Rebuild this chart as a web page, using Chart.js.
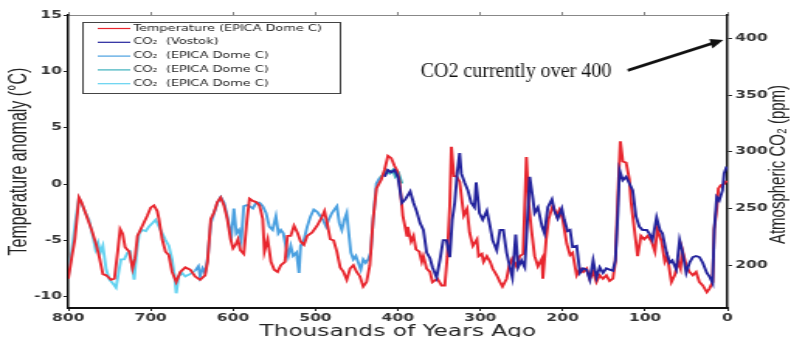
<!DOCTYPE html>
<html>
<head>
<meta charset="utf-8">
<script src="https://cdn.jsdelivr.net/npm/chart.js@4.4.1/dist/chart.umd.min.js"></script>
<style>
    html, body { margin: 0; padding: 0; background: #fff; overflow: hidden; }
    /* the original figure is a stretched matplotlib plot */
    #wrap { width: 510px; height: 337px; transform-origin: 0 0; transform: scaleX(1.551); }
</style>
</head>
<body>
<div id="wrap"><canvas id="myChart" width="510" height="337"></canvas></div>
<script>
var STRETCH = 791 / 510;

/*temperature anomaly, EPICA Dome C (kyr ago, degC)*/
var tempAge = [800,796,792,787,784,778,772,766,762,758,754,748,744,740,737,734,731,726,722,719,716,710,704,700,696,692,690,686,682,678,674,669,664,658,652,646,640,634,631,627,623,619,615,611,607,603,600,597,594,591,587,583,580,576,572,568,564,562,558,554,550,546,542,537,534,530,526,522,518,514,510,504,498,492,489,486,482,478,474,470,466,462,458,454,450,446,442,438,434,430,426,420,416,412,408,404,401,398,394,389,388,384,381,378,374,371,369,365,361,358,352,347,343,340,337,335,332,329,325,322,320,316,313,309,304,302,298,296,292,288,285,280,276,273,268,265,261,256,252,248,246,244,241,238,234,230,225,224,220,217,212,207,204,200,195,191,188,183,179,175,171,167,163,159,155,151,147,143,139,136,133,130,127,123,119,117,113,109,105,101,97,92,88,85,80,76,73,68,64,60,57,55,50,46,42,38,34,30,25,22,18,16,13,11,8,4,1];
var tempVal = [-8.4,-6.6,-4.9,-1.2,-1.6,-2.8,-4.0,-5.4,-6.6,-8.0,-8.1,-8.5,-8.4,-6.0,-4.0,-4.4,-5.6,-6.0,-7.5,-6.6,-4.6,-3.7,-2.8,-2.1,-1.9,-2.4,-3.1,-4.9,-6.0,-6.3,-7.8,-8.7,-7.8,-7.4,-7.6,-8.2,-8.5,-8.1,-6.9,-3.1,-2.5,-1.6,-1.2,-1.9,-3.1,-4.9,-5.7,-5.4,-4.9,-5.9,-6.2,-3.1,-1.3,-1.5,-1.6,-1.9,-3.1,-6.0,-4.9,-6.9,-7.6,-7.8,-7.2,-6.9,-4.6,-4.6,-3.7,-4.3,-5.1,-5.4,-4.6,-4.3,-3.7,-2.9,-2.4,-3.4,-4.9,-5.0,-6.0,-7.4,-7.8,-8.5,-7.5,-7.2,-7.8,-8.2,-9.1,-8.7,-7.2,-3.1,-0.4,0.4,1.3,2.5,2.3,1.6,1.2,0.2,-2.8,-4.6,-3.8,-5.1,-4.6,-5.8,-6.0,-6.9,-6.4,-7.5,-7.8,-8.7,-8.4,-9.0,-9.0,-6.4,-1.9,3.3,0.7,0.7,0.2,-1.6,-2.8,-2.2,-4.3,-5.5,-4.9,-6.4,-6.2,-6.9,-6.4,-6.9,-7.5,-8.1,-8.7,-9.1,-8.4,-7.3,-6.6,-7.3,-6.4,-6.2,-1.9,2.4,-1.9,-4.0,-6.4,-7.3,-6.6,-8.4,-4.9,-3.1,-1.9,-2.8,-2.3,-3.1,-5.3,-6.3,-6.1,-8.1,-7.5,-7.8,-7.5,-8.4,-7.8,-8.7,-8.1,-8.4,-8.1,-8.6,-8.4,-6.9,-1.1,3.8,2.0,1.9,0.4,-1.6,-4.0,-6.4,-4.6,-4.9,-4.6,-5.1,-6.0,-4.0,-5.1,-6.9,-6.4,-8.7,-8.1,-6.9,-7.5,-5.8,-7.2,-7.8,-8.1,-7.8,-8.7,-9.0,-9.6,-9.3,-8.7,-4.0,-2.2,-0.4,-0.1,0.0,0.3];

/*CO2 Vostok (ppm)*/
var vostokAge = [416,412,408,404,400,395,391,385,381,377,373,369,365,361,358,353,349,345,341,337,334,331,328,325,323,319,315,311,307,305,301,297,292,288,285,280,276,272,268,264,261,257,254,250,246,243,240,236,234,230,225,222,218,213,210,206,201,198,194,191,188,183,179,175,171,167,163,159,155,151,147,143,139,136,133,131,127,123,119,115,111,107,103,98,95,91,86,82,79,74,70,67,62,58,55,50,46,42,38,34,30,25,22,18,16,13,10,6,4,1];
var vostokVal = [278,284,282,284,278,255,258,265,255,247,237,231,211,206,198,189,204,222,222,207,240,255,281,299,281,273,266,255,251,273,246,240,248,234,222,213,231,231,211,198,189,227,198,204,198,237,278,258,246,251,234,228,251,258,248,241,250,240,230,231,216,217,193,197,196,187,204,189,198,193,197,196,195,204,246,284,275,278,272,266,243,234,231,231,228,222,242,231,228,211,202,204,196,222,213,193,202,207,208,207,202,193,190,184,231,260,257,266,281,287];

/*CO2 EPICA Dome C, three records*/
var domeAgeA = [646,642,640,637,634,631,627,623,619,615,611,607,604,602,599,596,593,590,587,583,580,576,572,568,564,560,556,552,548,545,542,539,536,533,530,527,523,520,518,514,510,506,502,498,494,491,487,484,480,476,474,471,468,465,462,460,457,454,451,448,445,442,439,436,433,430,426,422];
var domeValA = [195,199,190,197,193,205,237,246,255,260,255,243,231,225,250,228,231,222,252,253,252,250,255,255,252,246,234,231,243,228,231,228,217,208,217,208,211,193,217,222,234,243,249,247,243,240,234,240,246,250,252,237,231,240,246,231,211,205,208,202,196,205,202,205,211,240,272,277];
var domeAgeB = [422,418,414,410,406,403,399,395];
var domeValB = [277,280,284,281,284,278,281,272];
var domeAgeC = [800,796,791,787,783,779,775,773,770,767,764,761,758,754,750,745,742,739,736,732,728,725,722,720,717,714,710,706,702,698,694,690,686,682,678,674,671,669,666,662,658,652,646];
var domeValC = [190,211,240,259,253,246,240,234,225,214,220,211,217,196,187,183,180,193,205,205,211,212,196,187,211,228,231,230,234,237,240,234,228,222,217,205,190,175,190,193,190,192,195];

var xTicks = [800, 700, 600, 500, 400, 300, 200, 100, 0];
var tempTicks = [-10, -5, 0, 5, 10, 15];
var co2Ticks = [200, 250, 300, 350, 400];

function pairs(ages, vals) {
    return ages.map(function(a, i) { return {x: a, y: vals[i]}; });
}

function series(label, ages, vals, color, axis, order) {
    return {
        label: label,
        data: pairs(ages, vals),
        borderColor: color,
        backgroundColor: color,
        borderWidth: 1.9,
        pointRadius: 0,
        tension: 0,
        fill: false,
        yAxisID: axis,
        order: order
    };
}

function fixedTicks(list) {
    return function(scale) {
        scale.ticks = list.map(function(v) { return {value: v}; });
    };
}

/*legend box, right axis title and the arrow note*/
var extras = {
    id: 'extras',
    afterDraw: function(chart) {
        var ctx = chart.ctx;
        var area = chart.chartArea;
        var xs = chart.scales.x;
        var ys = chart.scales.co2;

        ctx.save();
        var lx = area.left + 9, ly = area.top + 7, lw = 166, lh = 71;
        ctx.fillStyle = '#fff';
        ctx.fillRect(lx, ly, lw, lh);
        ctx.strokeStyle = '#444';
        ctx.lineWidth = 1;
        ctx.strokeRect(lx + 0.5, ly + 0.5, lw, lh);
        ctx.font = '8.3px "DejaVu Sans"';
        ctx.textBaseline = 'middle';
        chart.data.datasets.forEach(function(ds, i) {
            var y = ly + 6.5 + i * 13.8;
            ctx.strokeStyle = ds.borderColor;
            ctx.lineWidth = 1.2;
            ctx.beginPath();
            ctx.moveTo(lx + 10, y);
            ctx.lineTo(lx + 31, y);
            ctx.stroke();
            ctx.fillStyle = '#222';
            ctx.fillText(ds.label, lx + 33, y);
        });
        ctx.restore();

        ctx.save();
        ctx.translate(chart.width - 8, (area.top + area.bottom) / 2 + 3);
        ctx.rotate(-Math.PI / 2);
        ctx.font = '15px "Liberation Sans"';
        ctx.fillStyle = '#222';
        ctx.textAlign = 'center';
        ctx.textBaseline = 'middle';
        ctx.fillText('Atmospheric CO\u2082 (ppm)', 0, 0);
        ctx.restore();

        /*the note was pasted on later, so undo the stretch for it*/
        ctx.save();
        ctx.scale(1 / STRETCH, 1);
        ctx.fillStyle = '#111';
        ctx.font = '20px "Liberation Serif"';
        ctx.textAlign = 'right';
        ctx.textBaseline = 'middle';
        ctx.fillText('CO2 currently over 400', xs.getPixelForValue(141) * STRETCH, ys.getPixelForValue(371));
        var x0 = xs.getPixelForValue(121) * STRETCH, y0 = ys.getPixelForValue(372);
        var x1 = xs.getPixelForValue(5) * STRETCH, y1 = ys.getPixelForValue(399);
        var ang = Math.atan2(y1 - y0, x1 - x0);
        ctx.strokeStyle = '#111';
        ctx.lineWidth = 3;
        ctx.beginPath();
        ctx.moveTo(x0, y0);
        ctx.lineTo(x1 - 10 * Math.cos(ang), y1 - 10 * Math.sin(ang));
        ctx.stroke();
        ctx.beginPath();
        ctx.moveTo(x1, y1);
        ctx.lineTo(x1 - 13 * Math.cos(ang) + 5 * Math.sin(ang), y1 - 13 * Math.sin(ang) - 5 * Math.cos(ang));
        ctx.lineTo(x1 - 13 * Math.cos(ang) - 5 * Math.sin(ang), y1 - 13 * Math.sin(ang) + 5 * Math.cos(ang));
        ctx.closePath();
        ctx.fill();
        ctx.restore();
    }
};

var tickFont = {family: 'DejaVu Sans', size: 10, weight: 'bold'};

var ctx = document.getElementById('myChart').getContext('2d');
var myChart = new Chart(ctx, {
    type: 'line',
    data: {
        datasets: [
            series('Temperature (EPICA Dome C)', tempAge, tempVal, '#e8262e', 'y', 1),
            series('CO\u2082  (Vostok)', vostokAge, vostokVal, '#23239c', 'co2', 0),
            series('CO\u2082  (EPICA Dome C)', domeAgeA, domeValA, '#4aa0e0', 'co2', 2),
            series('CO\u2082  (EPICA Dome C)', domeAgeB, domeValB, '#3cb0bc', 'co2', 2),
            series('CO\u2082  (EPICA Dome C)', domeAgeC, domeValC, '#62d2f0', 'co2', 2)
        ]
    },
    options: {
        responsive: false,
        animation: false,
        devicePixelRatio: 1,
        layout: {padding: 0},
        plugins: {legend: {display: false}, tooltip: {enabled: false}},
        scales: {
            x: {
                type: 'linear', position: 'bottom', min: 0, max: 800, reverse: true,
                afterBuildTicks: fixedTicks(xTicks),
                ticks: {font: tickFont, color: '#333', padding: 1, maxRotation: 0},
                grid: {drawOnChartArea: false, tickLength: 3, color: '#222'},
                border: {color: '#111', width: 2},
                title: {display: true, text: 'Thousands of Years Ago', color: '#222',
                        font: {family: 'DejaVu Sans', size: 15}, padding: {top: 0, bottom: -4}},
                afterFit: function(s) { s.height = 29; }
            },
            xTop: {
                type: 'linear', position: 'top', min: 0, max: 800, reverse: true,
                afterBuildTicks: fixedTicks(xTicks),
                ticks: {display: false},
                grid: {drawOnChartArea: false, tickLength: 3, color: '#888'},
                border: {color: '#888', width: 1},
                afterFit: function(s) { s.height = 15; }
            },
            y: {
                position: 'left', min: -11, max: 15,
                afterBuildTicks: fixedTicks(tempTicks),
                ticks: {font: tickFont, color: '#333', padding: 1},
                grid: {drawOnChartArea: false, tickLength: 3, color: '#222'},
                border: {color: '#111', width: 1.5},
                title: {display: true, text: 'Temperature anomaly (\u00b0C)', color: '#222',
                        font: {family: 'Liberation Sans', size: 16}, padding: {top: 3}},
                afterFit: function(s) { s.width = 44; }
            },
            co2: {
                position: 'right', min: 162, max: 421,
                afterBuildTicks: fixedTicks(co2Ticks),
                ticks: {font: tickFont, color: '#333', padding: 2},
                grid: {drawOnChartArea: false, tickLength: 3, color: '#222'},
                border: {color: '#111', width: 1.5},
                afterFit: function(s) { s.width = 41; }
            }
        }
    },
    plugins: [extras]
});
</script>
</body>
</html>
